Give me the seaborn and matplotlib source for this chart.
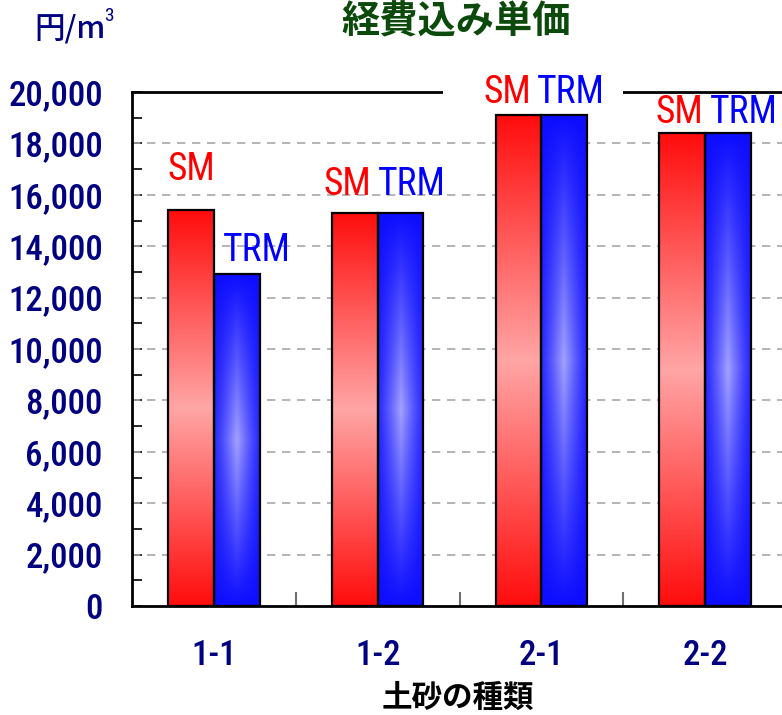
import numpy as np
import pandas as pd
import matplotlib
matplotlib.use("Agg")
import matplotlib.pyplot as plt
from matplotlib import font_manager
from matplotlib.patches import Rectangle
from matplotlib.ticker import MultipleLocator, FuncFormatter
import seaborn as sns

# 経費込み単価 (円/m3) per soil type
categories = ["1-1", "1-2", "2-1", "2-2"]
series_names = ["SM", "TRM"]
sm_values = [15400, 15300, 19100, 18400]
trm_values = [12900, 15300, 19100, 18400]

df = pd.DataFrame({
    "土砂の種類": categories * 2,
    "工法": ["SM"] * len(categories) + ["TRM"] * len(categories),
    "単価": sm_values + trm_values,
})

sns.set_theme(style="white")
CJK = "Noto Sans CJK JP"
installed = {f.name for f in font_manager.fontManager.ttflist}
narrow_choices = ["Roboto Condensed", "PT Sans Narrow", "Archivo Narrow",
                  "Fira Sans Condensed", "IBM Plex Sans Condensed",
                  "Encode Sans Condensed", "Liberation Sans Narrow",
                  "DejaVu Sans"]
LATIN = next(n for n in narrow_choices if n in installed)
plt.rcParams["font.family"] = [LATIN, CJK, "DejaVu Sans"]

NAVY = "#000080"
RED = np.array([1.0, 0.05, 0.05])
BLUE = np.array([0.05, 0.05, 1.0])

fig = plt.figure(figsize=(7.82, 7.15), dpi=100)
W, H = 782, 715
ax = fig.add_axes([132 / W, 1 - 606 / H, (787 - 132) / W, (606 - 92) / H])

sns.barplot(data=df, x="土砂の種類", y="単価", hue="工法", order=categories,
            hue_order=series_names, palette=["red", "blue"], width=0.56,
            dodge=True, legend=False, edgecolor="black", linewidth=1.6,
            saturation=1, ax=ax, zorder=3)


def red_gradient(n=200):
    t = np.linspace(0, 1, n)[:, None]
    a = 1 - np.abs(2 * t - 1)
    mix = 0.63 * a
    img = RED[None, None, :] * (1 - mix[..., None]) + mix[..., None]
    return np.repeat(img, 4, axis=1)


def blue_gradient(n=200, m=40):
    t = np.linspace(0, 1, n)[:, None]
    s = np.linspace(0, 1, m)[None, :]
    a = 1 - np.abs(2 * t - 1)
    b = (1 - np.abs(2 * s - 1)) ** 1.2
    mix = 0.62 * a * (0.2 + 0.8 * b)
    return BLUE[None, None, :] * (1 - mix[..., None]) + mix[..., None]


grads = [red_gradient(), blue_gradient()]
for ci, cont in enumerate(ax.containers):
    for bar in cont:
        x0, w, h = bar.get_x(), bar.get_width(), bar.get_height()
        ax.imshow(grads[ci], extent=[x0, x0 + w, 0, h], origin="lower",
                  aspect="auto", interpolation="bilinear", zorder=2.5)
        bar.set_facecolor("none")
        bar.set_zorder(3)

ax.set_xlim(-0.5, 3.5)
ax.set_ylim(0, 20000)

# axis styling
for side in ["left", "bottom", "top"]:
    ax.spines[side].set_visible(True)
    ax.spines[side].set_color("black")
    ax.spines[side].set_linewidth(2)
ax.spines["right"].set_visible(False)

ax.yaxis.set_major_locator(MultipleLocator(2000))
ax.yaxis.set_minor_locator(MultipleLocator(1000))
ax.yaxis.set_major_formatter(FuncFormatter(lambda v, p: f"{int(v):,}"))
ax.tick_params(axis="y", which="both", direction="in", length=7, width=1.2,
               color="black", left=True, labelsize=25, labelcolor=NAVY, pad=21)
ax.set_xticks(range(len(categories)))
ax.set_xticklabels(categories)
ax.set_xticks([0.5, 1.5, 2.5], minor=True)
ax.tick_params(axis="x", which="major", length=0, labelsize=25,
               labelcolor=NAVY, pad=24)
ax.tick_params(axis="x", which="minor", direction="in", length=10, width=1.5,
               color="#707070", bottom=True)
for lab in ax.get_xticklabels() + ax.get_yticklabels():
    lab.set_fontweight("medium")
ax.set_xlabel("")
ax.set_ylabel("")

ax.grid(False)
for v in range(2000, 20000, 2000):
    ax.axhline(v, color="#A8A8A8", linestyle=(0, (5, 4)), linewidth=1.2,
               zorder=1)

# data labels above each bar (offsets in points: dx, baseline height above bar)
label_offsets = {
    ("SM", 0): (0, 21.5), ("TRM", 0): (14.5, 9.5),
    ("SM", 1): (-5, 13), ("TRM", 1): (8, 13),
    ("SM", 2): (-8, 8.5), ("TRM", 2): (5, 8.5),
    ("SM", 3): (-2, 7), ("TRM", 3): (11.5, 7),
}
label_colors = {"SM": "#FF0000", "TRM": "#0000FF"}
labels = []
for ci, name in enumerate(series_names):
    for i, bar in enumerate(ax.containers[ci]):
        dx, dy = label_offsets[(name, i)]
        t = ax.annotate(name, (bar.get_x() + bar.get_width() / 2,
                               bar.get_height()),
                        xytext=(dx, dy), textcoords="offset points",
                        ha="center", va="baseline", fontsize=27,
                        color=label_colors[name], family=LATIN,
                        annotation_clip=False, zorder=6)
        labels.append(t)

# where labels rise above the frame, open a gap in the top edge around them
fig.canvas.draw()
renderer = fig.canvas.get_renderer()
ax_box = ax.get_window_extent(renderer)
crossing = [t.get_window_extent(renderer) for t in labels
            if t.get_window_extent(renderer).y1 > ax_box.y1]
if crossing:
    gx0 = min(b.x0 for b in crossing) - 40
    gx1 = max(b.x1 for b in crossing) + 18
    inv = ax.transData.inverted()
    d0 = inv.transform((gx0, 0))[0]
    d1 = inv.transform((gx1, 0))[0]
    ax.add_patch(Rectangle((d0, 0.99), d1 - d0, 0.02,
                           transform=ax.get_xaxis_transform(), fc="white",
                           ec="none", zorder=4, clip_on=False))

fig.text(456 / W, 1 - 22 / H, "経費込み単価", ha="center", va="center",
         fontsize=27.5, fontweight="bold", color="#0B4A0B", family=CJK)
fig.text(458 / W, 1 - 698 / H, "土砂の種類", ha="center", va="center",
         fontsize=22, fontweight="bold", color="black", family=CJK)
fig.text(34 / W, 1 - 29 / H, "円/m", ha="left", va="center", fontsize=22,
         color=NAVY, fontweight="medium", family=[CJK, LATIN])
fig.text(104 / W, 1 - 16 / H, "3", ha="left", va="center", fontsize=14,
         color=NAVY, family=LATIN)

fig.savefig("out.png", dpi=100)
